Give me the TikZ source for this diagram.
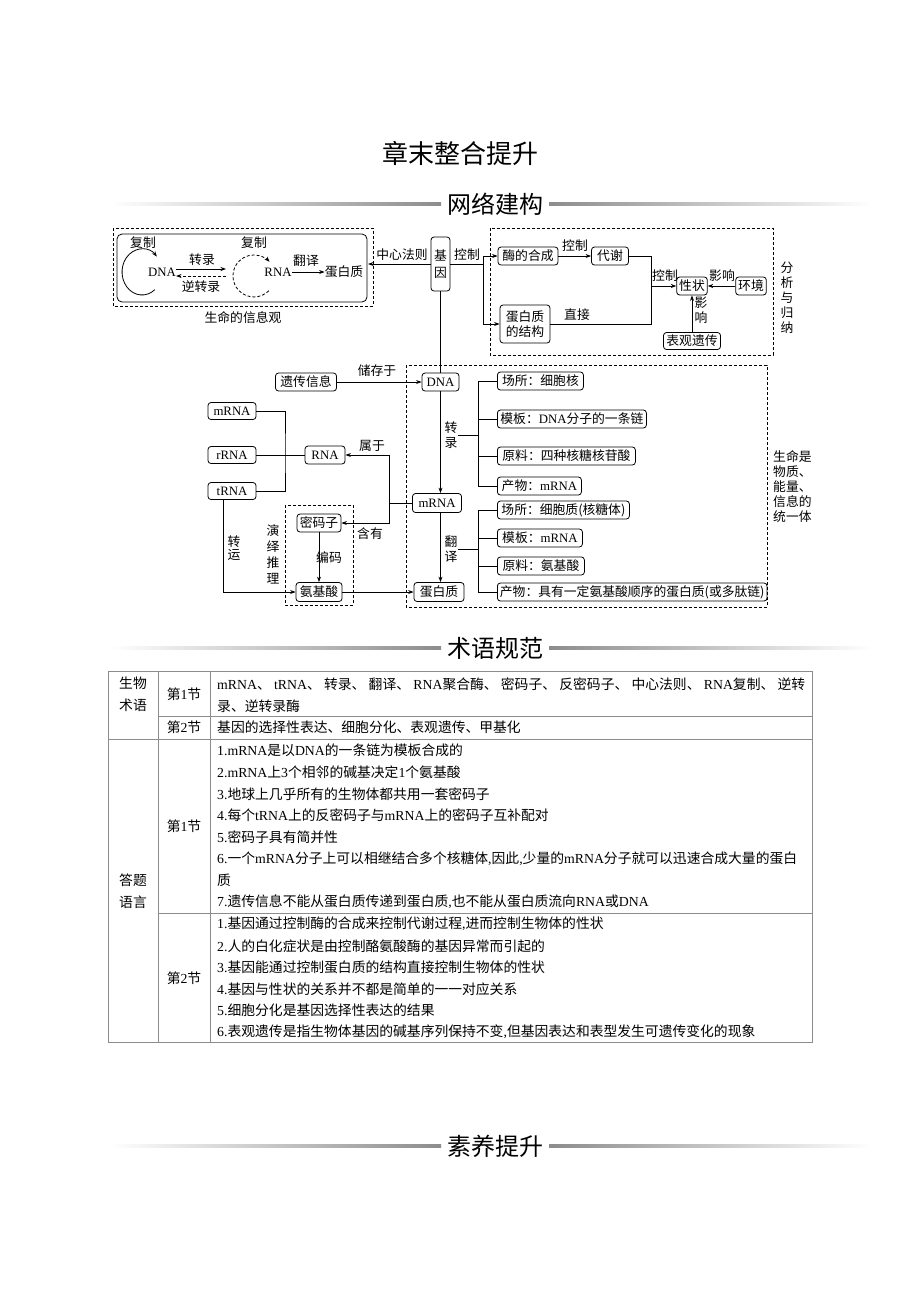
\documentclass[tikz,border=0pt]{standalone}
\usepackage{fontspec}
\setmainfont{Noto Sans CJK SC}
\newfontfamily\tmfont{Liberation Serif}
\newcommand\E[1]{{\tmfont #1}}
\usetikzlibrary{arrows.meta}
\tikzset{
  dfont/.style={font=\fontsize{12.8}{14.5}\selectfont},
  lab/.style={dfont, inner sep=0pt, align=center},
  bx/.style={draw, line width=0.8pt, rounded corners=3pt, dfont, inner xsep=2.5pt, inner ysep=0pt, minimum height=18pt, align=center},
  ar/.style={-{Stealth[length=5.5pt,width=4pt]}, line width=0.8pt},
  ln/.style={line width=0.8pt},
  db/.style={line width=0.8pt, dash pattern=on 3pt off 2pt},
  tb/.style={font=\fontsize{13.8}{21.5}\selectfont, inner sep=0pt, align=center},
  tw/.style={font=\fontsize{13.8}{21.5}\selectfont, inner sep=0pt, anchor=west},
  tl/.style={draw=black!45, line width=0.8pt},
  hd/.style={font=\fontsize{24}{26}\selectfont, inner sep=2pt},
}
\begin{document}
\begin{tikzpicture}[x=1pt,y=-1pt]
\useasboundingbox (0,0) rectangle (920,1302);
\fill[white] (0,0) rectangle (920,1302);

% title and headers
\node[font=\fontsize{26}{28}\selectfont] (title) at (460,153) {章末整合提升};
\foreach \yy/\tt/\nm in {204/网络建构/h1, 648/术语规范/h2, 1146/素养提升/h3}{
  \shade[left color=white, right color=black!45] (110,\yy-1.4) rectangle (441,\yy+1.4);
  \shade[left color=black!45, right color=white] (549,\yy-1.4) rectangle (872,\yy+1.4);
  \node[hd] (\nm) at (495,\yy) {\tt};
}

% ---------- top left: information view ----------
\draw[db] (113,228) rectangle (373,306);
\draw[ln, rounded corners=5pt] (117,234) rectangle (367,302);
\coordinate (c1) at (142,272);
\coordinate (c2) at (254,276);
\node[lab] (fz1) at (143,243) {复制};
\node[lab] (fz2) at (254,243) {复制};
\node[lab] (dna0) at (162,272) {\E{DNA}};
\node[lab] (rna0) at (278,272) {\E{RNA}};
\node[lab] (pro0) at (344,272) {蛋白质};
\draw[ar] ([shift={(12.9,17.6)}]c1) arc[start angle=-50, end angle=-318, x radius=20pt, y radius=23pt];
\draw[ar, db] ([shift={(14.8,14.8)}]c2) arc[start angle=-45, end angle=-318, radius=21pt];
\coordinate (zl1) at (226,269);
\coordinate (nz1) at (226,276);
\draw[ar] (dna0.east |- zl1) -- (zl1);
\draw[ar, db] (nz1) -- (dna0.east |- nz1);
\node[lab] (zlt) at (202,260) {转录};
\node[lab] (nzt) at (201,287) {逆转录};
\draw[ar] (rna0.east) -- (pro0.west);
\node[lab] (fyt) at (306,261) {翻译};
\node[lab] (xxg) at (243,318) {生命的信息观};

% ---------- gene ----------
\node[bx, minimum width=19pt, minimum height=54pt, inner xsep=1pt, font=\fontsize{12.8}{17}\selectfont] (jy) at (440.5,264) {基\\因};
\coordinate (lbe) at (368,264);
\draw[ar] (jy.west) -- (lbe);
\node[lab] (zxfz) at (402,255) {中心法则};

% ---------- top right ----------
\coordinate (j1) at (483,264);
\draw[ln] (jy.east) -- (j1);
\node[lab] (kz1) at (467,255) {控制};
\node[bx, minimum width=60pt] (mh) at (528,256) {酶的合成};
\node[bx, minimum width=37pt] (dx) at (610,256) {代谢};
\node[bx, minimum width=50pt, minimum height=38pt, font=\fontsize{12.8}{15}\selectfont] (dbj) at (525,324) {蛋白质\\的结构};
\draw[ar] (j1) |- (mh.west);
\draw[ar] (j1) |- (dbj.west);
\draw[ar] (mh) -- (dx);
\node[lab] (kz2) at (575,246) {控制};
\node[bx, minimum width=28pt] (xz) at (692,286) {性状};
\node[bx, minimum width=28pt] (hj) at (751,286) {环境};
\node[bx, minimum width=57pt, minimum height=17pt] (bg) at (692,341) {表观遗传};
\coordinate (j2) at (651,286);
\draw[ln] (dx.east) -| (j2);
\draw[ln] (dbj.east) -| (j2);
\draw[ar] (j2) -- (xz.west);
\node[lab] (kz3) at (665,276) {控制};
\draw[ar] (hj) -- (xz);
\node[lab] (yx1) at (722,276) {影响};
\draw[ar] (bg) -- (xz);
\node[lab] (yx2) at (701,310) {影\\响};
\node[lab] (zj) at (577,315) {直接};
\draw[db] (490,228) rectangle (773,355);
\node[lab, font=\fontsize{12.8}{15}\selectfont] (fxgn) at (787,298) {分\\析\\与\\归\\纳};

% ---------- lower centre ----------
\node[bx, minimum width=61pt] (ycxx) at (306,382) {遗传信息};
\node[bx, minimum width=37pt] (dna) at (440.5,382) {\E{DNA}};
\draw[ar] (ycxx) -- (dna);
\node[lab] (ccy) at (377,371) {储存于};
\draw[ln] (jy.south) -- (dna.north);
\draw[db] (406,365) rectangle (767,607);
\node[bx, minimum width=49pt, minimum height=19pt] (mrna) at (437,503) {\E{mRNA}};
\node[bx, minimum width=50pt, minimum height=19pt] (pro) at (439,592) {蛋白质};
\draw[ar] (dna.south) -- (dna.south |- mrna.north);
\draw[ar] (dna.south |- mrna.south) -- (dna.south |- pro.north);

% transcription bracket
\node[lab] (zl) at (451,435) {转\\录};
\coordinate (k1) at (478,435);
\draw[ln] (zl.east) -- (k1);
\node[bx, anchor=west, minimum width=86pt] (b1) at (497,381) {场所：细胞核};
\node[bx, anchor=west, minimum width=149pt] (b2) at (497,419) {模板：\E{DNA}分子的一条链};
\node[bx, anchor=west, minimum width=138pt] (b3) at (497,456) {原料：四种核糖核苷酸};
\node[bx, anchor=west, minimum width=84pt] (b4) at (497,486) {产物：\E{mRNA}};
\foreach \b in {b1,b2,b3,b4} \draw[ln] (k1) |- (\b.west);

% translation bracket
\node[lab] (fy) at (451,549) {翻\\译};
\coordinate (k2) at (478,549);
\draw[ln] (fy.east) -- (k2);
\node[bx, anchor=west, minimum width=132pt] (d1) at (497,510) {场所：细胞质(核糖体)};
\node[bx, anchor=west, minimum width=85pt] (d2) at (497,538) {模板：\E{mRNA}};
\node[bx, anchor=west, minimum width=87pt] (d3) at (497,566) {原料：氨基酸};
\node[bx, anchor=west, minimum width=263pt] (d4) at (497,592) {产物：具有一定氨基酸顺序的蛋白质(或多肽链)};
\foreach \b in {d1,d2,d3,d4} \draw[ln] (k2) |- (\b.west);

\node[lab, anchor=west, align=left, font=\fontsize{12.8}{15}\selectfont] (smts) at (773,487) {生命是\\物质、\\能量、\\信息的\\统一体};

% ---------- lower left ----------
\node[bx, minimum width=48pt, minimum height=17pt] (m1) at (232,411) {\E{mRNA}};
\node[bx, minimum width=48pt, minimum height=17pt] (r1) at (232,455) {\E{rRNA}};
\node[bx, minimum width=48pt, minimum height=17pt] (t1) at (232,491) {\E{tRNA}};
\node[bx, minimum width=40pt] (rna) at (325,455) {\E{RNA}};
\draw[ln] (r1) -- (rna);
\coordinate (j3) at (285,455);
\draw[ln] (m1.east) -| (j3) |- (t1.east);
\coordinate (j4) at (389,503);
\draw[ln] (mrna.west) -- (j4);
\draw[ar] (j4) |- (rna.east);
\node[bx, minimum width=44pt] (mmz) at (319,523) {密码子};
\draw[ar] (j4) |- (mmz.east);
\node[lab] (sy) at (372,446) {属于};
\node[lab] (hy) at (370,534) {含有};
\node[bx, minimum width=46pt, minimum height=19pt] (ajs) at (319,592) {氨基酸};
\draw[ar] (mmz) -- (ajs);
\node[lab] (bm) at (329,558) {编码};
\draw[db] (285,505) rectangle (353,605);
\node[lab, font=\fontsize{12.8}{16}\selectfont] (yytl) at (273,554) {演\\绎\\推\\理};
\draw[ar] (ajs) -- (pro);
\coordinate (j5) at (223,592);
\draw[ar] (t1.south -| j5) -- (j5) -- (ajs.west);
\node[lab, font=\fontsize{12.8}{13.5}\selectfont] (zy) at (234,548) {转\\运};

% ---------- table ----------
\draw[tl] (108,671) rectangle (812,1042);
\draw[tl] (158,671) -- (158,1042);
\draw[tl] (210,671) -- (210,1042);
\draw[tl] (158,716) -- (812,716);
\draw[tl] (108,739) -- (812,739);
\draw[tl] (158,913) -- (812,913);

\node[tb] (sw) at (133,694) {生物\\术语};
\node[tb] (dy) at (133,891) {答题\\语言};
\node[tb] (s11) at (184,694) {第\E{1}节};
\node[tb] (s12) at (184,727) {第\E{2}节};
\node[tb] (s21) at (184,826) {第\E{1}节};
\node[tb] (s22) at (184,978) {第\E{2}节};

\node[tw] (a1) at (217,684) {\hbox to 588pt{\E{mRNA}、\hfil\E{tRNA}、\hfil 转录、\hfil 翻译、\hfil\E{RNA}聚合酶、\hfil 密码子、\hfil 反密码子、\hfil 中心法则、\hfil\E{RNA}复制、\hfil 逆转}};
\node[tw] (a2) at (217,706) {录、逆转录酶};
\node[tw] (a3) at (217,727) {基因的选择性表达、细胞分化、表观遗传、甲基化};

\node[tw] (p1) at (217,750) {\E{1.mRNA}是以\E{DNA}的一条链为模板合成的};
\node[tw] (p2) at (217,772) {\E{2.mRNA}上\E{3}个相邻的碱基决定\E{1}个氨基酸};
\node[tw] (p3) at (217,794) {\E{3.}地球上几乎所有的生物体都共用一套密码子};
\node[tw] (p4) at (217,815) {\E{4.}每个\E{tRNA}上的反密码子与\E{mRNA}上的密码子互补配对};
\node[tw] (p5) at (217,837) {\E{5.}密码子具有简并性};
\node[tw] (p6) at (217,859) {\XeTeXlinebreaklocale "zh"\XeTeXlinebreakskip=0pt plus 1pt\hbox to 587pt{\E{6.}一个\E{mRNA}分子上可以相继结合多个核糖体\E{,}因此\E{,}少量的\E{mRNA}分子就可以迅速合成大量的蛋白}};
\node[tw] (p6b) at (217,880) {质};
\node[tw] (p7) at (217,902) {\E{7.}遗传信息不能从蛋白质传递到蛋白质\E{,}也不能从蛋白质流向\E{RNA}或\E{DNA}};

\node[tw] (q1) at (217,924) {\E{1.}基因通过控制酶的合成来控制代谢过程\E{,}进而控制生物体的性状};
\node[tw] (q2) at (217,946) {\E{2.}人的白化症状是由控制酪氨酸酶的基因异常而引起的};
\node[tw] (q3) at (217,967) {\E{3.}基因能通过控制蛋白质的结构直接控制生物体的性状};
\node[tw] (q4) at (217,989) {\E{4.}基因与性状的关系并不都是简单的一一对应关系};
\node[tw] (q5) at (217,1010) {\E{5.}细胞分化是基因选择性表达的结果};
\node[tw] (q6) at (217,1032) {\E{6.}表观遗传是指生物体基因的碱基序列保持不变\E{,}但基因表达和表型发生可遗传变化的现象};
\end{tikzpicture}
\end{document}
